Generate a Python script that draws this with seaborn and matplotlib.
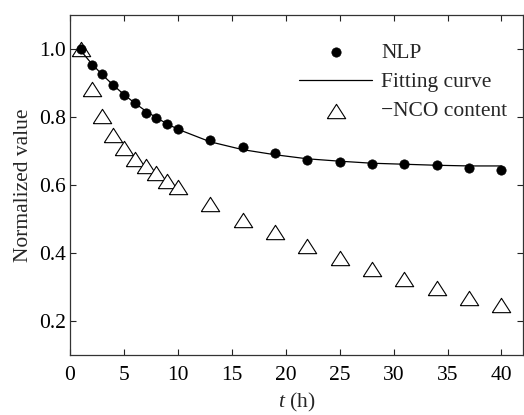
import numpy as np
import pandas as pd
import seaborn as sns
import matplotlib
matplotlib.use("Agg")
import matplotlib.pyplot as plt

# ---- data ----
t_hours = [1, 2, 3, 4, 5, 6, 7, 8, 9, 10, 13, 16, 19, 22, 25, 28, 31, 34, 37, 40]
nlp_values = [1.000, 0.954, 0.926, 0.894, 0.866, 0.840, 0.812, 0.796, 0.779, 0.766,
              0.733, 0.711, 0.694, 0.673, 0.668, 0.663, 0.661, 0.658, 0.651, 0.645]
fit_values = [0.995, 0.957, 0.924, 0.894, 0.866, 0.841, 0.818, 0.798, 0.780, 0.764,
              0.727, 0.704, 0.689, 0.677, 0.670, 0.664, 0.661, 0.658, 0.656, 0.656]
nco_values = [1.000, 0.882, 0.803, 0.747, 0.710, 0.676, 0.655, 0.634, 0.612, 0.595,
              0.543, 0.498, 0.461, 0.421, 0.386, 0.352, 0.323, 0.296, 0.269, 0.246]
labels = ["NLP", "Fitting curve", "\u2212NCO content"]

df = pd.DataFrame({"t": t_hours, "nlp": nlp_values, "fit": fit_values, "nco": nco_values})

sns.set_style("ticks")
plt.rcParams["font.family"] = ["Liberation Serif", "DejaVu Serif"]
plt.rcParams["mathtext.fontset"] = "custom"
plt.rcParams["mathtext.it"] = "Liberation Serif:italic"
plt.rcParams["mathtext.rm"] = "Liberation Serif"

FS = 15.5

fig = plt.figure(figsize=(5.24, 4.15), dpi=100)
ax = fig.add_axes([0.1336, 0.1446, 0.8645, 0.8193])

tri = [(-1, -0.78), (1, -0.78), (0, 0.78), (-1, -0.78)]

sns.scatterplot(data=df, x="t", y="nco", ax=ax, marker=tri, s=175,
                facecolor="white", edgecolor="black", linewidth=0.8,
                label=labels[2], zorder=2)
sns.lineplot(data=df, x="t", y="fit", ax=ax, color="black", linewidth=0.9,
             label=labels[1], zorder=3)
sns.scatterplot(data=df, x="t", y="nlp", ax=ax, marker="o", s=45,
                color="black", edgecolor="black", linewidth=0.5,
                label=labels[0], zorder=4)

ax.set_xlim(0, 42)
ax.set_ylim(0.1, 1.1)
ax.set_xticks([0, 5, 10, 15, 20, 25, 30, 35, 40])
ax.set_yticks([0.2, 0.4, 0.6, 0.8, 1.0])
ax.set_yticklabels(["0.2", "0.4", "0.6", "0.8", "1.0"])

ax.tick_params(direction="in", length=4, width=0.8, top=True, right=True,
               labelsize=FS, colors="#222222", labelcolor="black")
ax.tick_params(axis="x", pad=8)
ax.tick_params(axis="y", pad=3)
for sp in ax.spines.values():
    sp.set_linewidth(0.9)
    sp.set_color("#333333")

ax.set_xlabel("$\\mathit{t}$ (h)", fontsize=FS, labelpad=4)
ax.set_ylabel("Normalized value", fontsize=FS, labelpad=4)

handles, labs = ax.get_legend_handles_labels()
order = [labs.index(l) for l in labels]
ax.legend([handles[i] for i in order], [labs[i] for i in order],
          loc="upper right", bbox_to_anchor=(0.965, 0.918), frameon=False,
          fontsize=FS, handlelength=3.4, handletextpad=0.4, labelspacing=0.42,
          borderaxespad=0.0, borderpad=0.0)

fig.savefig("out.png", dpi=100)
